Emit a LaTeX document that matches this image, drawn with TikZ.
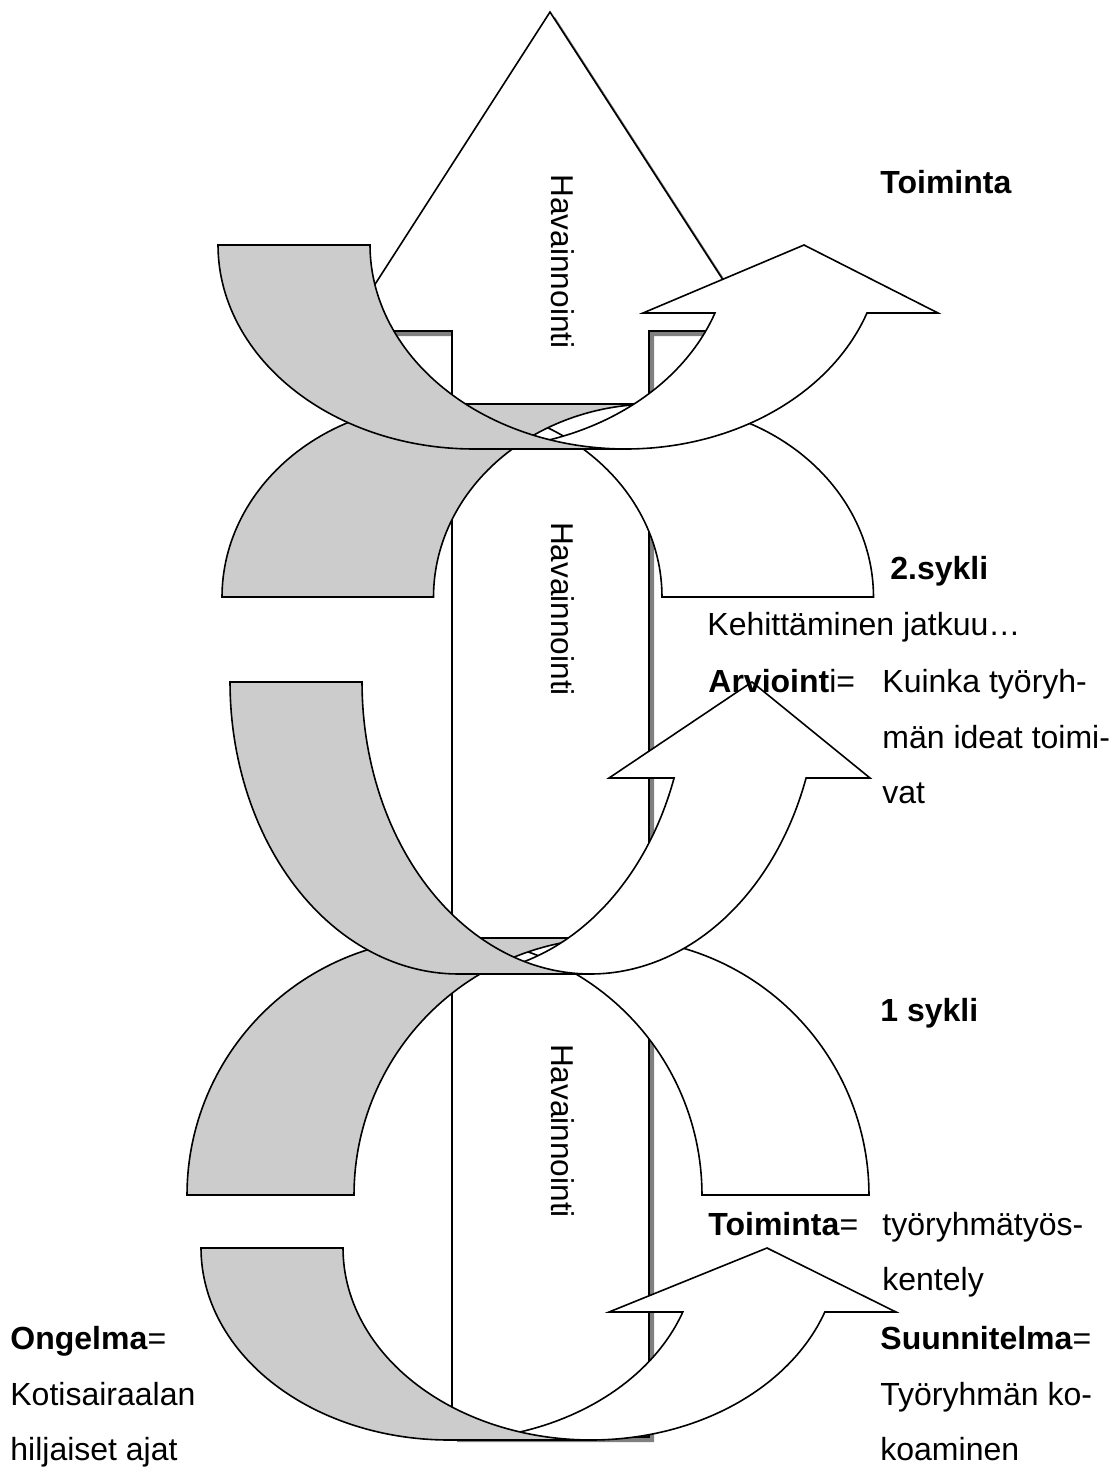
\documentclass[tikz,border=0pt]{standalone}
\usepackage{fontspec}
\setmainfont{Liberation Sans}
\definecolor{bandgrey}{HTML}{CCCCCC}
\definecolor{shadowgrey}{HTML}{808080}
\newcommand\curvedUp[9]{%
  \pgfmathsetmacro\cA{#1+#3}%
  \pgfmathsetmacro\cB{#1+#3+#2}%
  \pgfmathsetmacro\yb{#5+#4}%
  \pgfmathsetmacro\yh{#5+#6}%
  \pgfmathsetmacro\tb{asin(#6/#4)}%
  \draw[bandline, fill=white] (\cA,\yb) -- (\cB,\yb)
     -- plot[domain=90:\tb, samples=60, variable=\x] ({\cB+#3*cos(\x)},{#5+#4*sin(\x)})
     -- (#9,\yh) -- (#8,#5) -- (#7,\yh)
     -- plot[domain=\tb:90, samples=60, variable=\x] ({\cA+#3*cos(\x)},{#5+#4*sin(\x)}) -- cycle;
  \draw[bandline, fill=bandgrey] (#1,#5)
     -- plot[domain=180:90, samples=60, variable=\x] ({\cA+#3*cos(\x)},{#5+#4*sin(\x)})
     -- (\cB,\yb)
     -- plot[domain=90:180, samples=60, variable=\x] ({\cB+#3*cos(\x)},{#5+#4*sin(\x)}) -- cycle;
}
\newcommand\curvedArch[5]{%
  \pgfmathsetmacro\cA{#1+#3}%
  \pgfmathsetmacro\cB{#1+#3+#2}%
  \pgfmathsetmacro\yt{#5-#4}%
  \draw[bandline, fill=white] (\cA,\yt) -- (\cB,\yt)
     -- plot[domain=90:0, samples=60, variable=\x] ({\cB+#3*cos(\x)},{#5-#4*sin(\x)})
     -- plot[domain=0:90, samples=60, variable=\x] ({\cA+#3*cos(\x)},{#5-#4*sin(\x)}) -- cycle;
  \draw[bandline, fill=bandgrey] (#1,#5)
     -- plot[domain=180:90, samples=60, variable=\x] ({\cA+#3*cos(\x)},{#5-#4*sin(\x)})
     -- (\cB,\yt)
     -- plot[domain=90:180, samples=60, variable=\x] ({\cB+#3*cos(\x)},{#5-#4*sin(\x)}) -- cycle;
}
\begin{document}
\begin{tikzpicture}[x=0.5pt,y=-0.5pt,
  bandline/.style={draw=black, line width=0.8pt},
  vtext/.style={rotate=-90, inner sep=0pt, font=\fontsize{15.8}{18}\selectfont},
  lbl/.style={anchor=base west, inner sep=0pt, font=\fontsize{16}{18}\selectfont}]
\useasboundingbox (0,0) rectangle (1119,1468);
% big arrow with shadow
\begin{scope}[shift={(5,5)}]
  \fill[shadowgrey] (550,12) -- (756,331) -- (649,331) -- (649,1437) -- (452,1437) -- (452,331) -- (345,331) -- cycle;
\end{scope}
\draw[bandline, fill=white] (550,12) -- (756,331) -- (649,331) -- (649,1437) -- (452,1437) -- (452,331) -- (345,331) -- cycle;
\node[vtext] (hav1) at (562.5,261.5) {Havainnointi};
\node[vtext] (hav2) at (562.5,609) {Havainnointi};
\node[vtext] (hav3) at (562.5,1131) {Havainnointi};
% arches
\curvedArch{222}{211.5}{220}{193}{597}
\curvedArch{187}{167}{257.5}{257}{1195}
% U arrows
\curvedUp{218}{152}{255.8}{204}{245}{68}{643}{804}{938}
\curvedUp{230}{132}{228.4}{292}{682}{96}{609}{752}{870}
\curvedUp{201}{142}{248}{192}{1248}{64}{609}{767}{896}
% labels
\node[lbl] (toim) at (880,193) {\textbf{Toiminta}};
\node[lbl] (syk2) at (890,579) {\textbf{2.sykli}};
\node[lbl] (keh) at (707,635) {Kehittäminen jatkuu…};
\node[lbl] (arv) at (708,692) {\textbf{Arvioint}i=};
\node[lbl] (ku1) at (882,692) {Kuinka työryh-};
\node[lbl] (ku2) at (882,748) {män ideat toimi-};
\node[lbl] (ku3) at (882,803) {vat};
\node[lbl] (syk1) at (880,1021) {\textbf{1 sykli}};
\node[lbl] (toim2) at (708,1235) {\textbf{Toiminta}=};
\node[lbl] (ty1) at (882,1235) {työryhmätyös-};
\node[lbl] (ty2) at (882,1290) {kentely};
\node[lbl] (ong) at (10,1349) {\textbf{Ongelma}=};
\node[lbl] (kot) at (10,1405) {Kotisairaalan};
\node[lbl] (hil) at (10,1460) {hiljaiset ajat};
\node[lbl] (suu) at (880,1349) {\textbf{Suunnitelma}=};
\node[lbl] (tyo) at (880,1405) {Työryhmän ko-};
\node[lbl] (koa) at (880,1460) {koaminen};
\end{tikzpicture}
\end{document}
